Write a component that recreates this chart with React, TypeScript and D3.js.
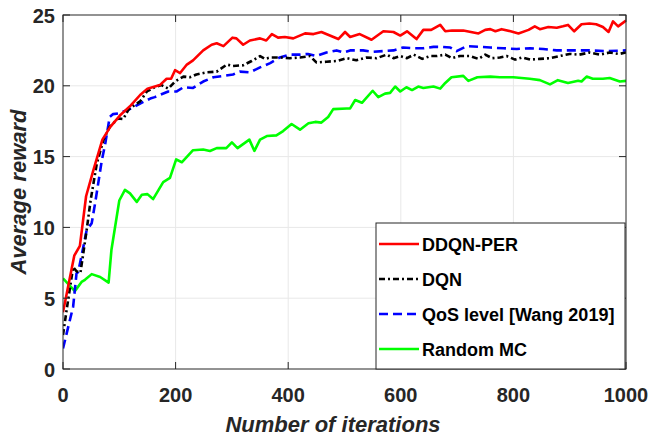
import React from "react";
import * as d3 from "d3";

const xTicks = [0, 200, 400, 600, 800, 1000];
const yTicks = [0, 5, 10, 15, 20, 25];

const ddqnX = [0, 10, 20, 30, 41, 54, 70, 84, 101, 120, 137, 150, 172, 184, 192, 199, 208, 220, 231, 249, 264, 273, 285, 301, 308, 320, 332, 350, 361, 371, 382, 394, 409, 430, 445, 459, 474, 489, 501, 510, 527, 548, 569, 587, 599, 611, 628, 640, 654, 670, 679, 691, 711, 738, 750, 759, 768, 779, 795, 809, 827, 838, 847, 862, 877, 888, 897, 908, 921, 935, 947, 959, 969, 977, 986, 1000];
const ddqnY = [4.0, 6.0, 8.0, 8.7, 12.2, 14.05, 16.2, 17.1, 17.9, 18.6, 19.35, 19.8, 20.05, 20.5, 20.5, 21.1, 20.9, 21.5, 21.8, 22.5, 22.9, 23.0, 22.8, 23.4, 23.35, 22.9, 23.2, 23.35, 23.2, 23.65, 23.4, 23.45, 23.35, 23.7, 23.65, 23.8, 23.55, 23.3, 23.8, 23.45, 23.65, 23.25, 23.85, 23.8, 23.55, 23.85, 23.3, 23.95, 23.95, 24.3, 23.85, 23.9, 23.9, 23.7, 23.95, 24.0, 23.85, 24.0, 23.85, 23.7, 23.95, 24.2, 24.0, 24.15, 24.1, 24.2, 24.3, 23.85, 24.35, 24.4, 24.35, 24.15, 23.8, 24.55, 24.2, 24.6];

const dqnX = [0, 6, 18, 24, 31, 42, 49, 60, 72, 83, 98, 107, 116, 122, 137, 149, 163, 175, 187, 199, 214, 225, 237, 255, 273, 291, 302, 320, 335, 350, 359, 368, 386, 403, 421, 439, 450, 468, 486, 504, 521, 539, 557, 575, 587, 599, 611, 623, 638, 652, 664, 679, 691, 705, 723, 738, 750, 762, 776, 788, 803, 815, 830, 847, 865, 882, 900, 917, 935, 953, 971, 988, 1000];
const dqnY = [2.4, 4.05, 7.2, 6.9, 6.8, 9.8, 11.9, 14.5, 16.2, 17.1, 17.7, 17.65, 18.3, 18.5, 18.9, 19.6, 19.9, 20.05, 19.8, 20.3, 20.65, 20.6, 20.8, 20.95, 21.0, 21.5, 21.4, 21.45, 21.75, 22.1, 21.9, 22.0, 22.0, 21.95, 22.0, 22.1, 21.65, 21.7, 21.75, 21.95, 21.8, 22.0, 21.95, 22.2, 21.95, 22.1, 21.95, 22.2, 21.9, 22.1, 22.1, 22.2, 21.95, 22.1, 22.1, 21.9, 22.2, 21.95, 22.0, 22.1, 21.85, 22.0, 21.85, 21.9, 21.95, 22.1, 22.25, 22.2, 22.35, 22.2, 22.35, 22.25, 22.35];

const qosX = [0, 18, 24, 27, 36, 42, 51, 57, 69, 75, 83, 89, 98, 116, 137, 155, 163, 172, 187, 202, 214, 231, 249, 267, 285, 302, 314, 332, 350, 368, 385, 403, 421, 435, 450, 468, 486, 498, 510, 533, 551, 569, 587, 604, 622, 640, 658, 670, 688, 699, 717, 741, 759, 782, 806, 830, 853, 877, 906, 935, 965, 1000];
const qosY = [1.45, 4.4, 6.75, 6.85, 8.6, 9.8, 10.3, 11.7, 14.75, 15.9, 17.8, 18.0, 18.05, 18.3, 18.75, 19.1, 19.2, 19.35, 19.6, 19.6, 19.9, 19.85, 20.3, 20.6, 20.7, 20.8, 21.0, 20.95, 21.3, 21.6, 22.0, 22.2, 22.2, 22.25, 22.1, 22.35, 22.5, 22.35, 22.5, 22.5, 22.4, 22.45, 22.5, 22.7, 22.65, 22.65, 22.75, 22.75, 22.7, 22.45, 22.8, 22.75, 22.7, 22.65, 22.6, 22.65, 22.6, 22.5, 22.5, 22.5, 22.45, 22.5];

const mcX = [0, 21, 33, 39, 51, 66, 81, 86, 100, 110, 119, 131, 140, 150, 160, 178, 190, 201, 211, 231, 249, 261, 273, 290, 300, 310, 331, 340, 350, 362, 379, 391, 406, 421, 436, 448, 459, 471, 480, 504, 510, 519, 531, 550, 560, 572, 581, 590, 599, 610, 620, 631, 640, 658, 670, 679, 690, 711, 720, 736, 759, 776, 800, 829, 847, 865, 879, 897, 915, 921, 930, 941, 959, 971, 989, 1000];
const mcY = [6.4, 5.5, 6.15, 6.3, 6.7, 6.5, 6.1, 8.4, 11.9, 12.65, 12.4, 11.8, 12.3, 12.35, 12.0, 13.2, 13.5, 14.8, 14.6, 15.45, 15.5, 15.4, 15.6, 15.6, 16.0, 15.6, 16.2, 15.4, 16.2, 16.45, 16.5, 16.8, 17.3, 16.9, 17.35, 17.45, 17.4, 17.8, 18.35, 18.4, 18.4, 19.0, 18.8, 19.65, 19.2, 19.45, 19.5, 19.95, 19.6, 19.9, 19.7, 19.95, 19.85, 19.95, 19.8, 20.2, 20.6, 20.7, 20.35, 20.6, 20.65, 20.6, 20.6, 20.5, 20.4, 20.1, 20.4, 20.2, 20.35, 20.3, 20.65, 20.5, 20.5, 20.55, 20.3, 20.35];

const seriesNames = ["DDQN-PER", "DQN", "QoS level [Wang 2019]", "Random MC"];
const seriesColors = ["#ff0000", "#000000", "#0000ff", "#00ff00"];
const seriesDash = [null, "6,3,2,3", "9,5", null];

const W = 649, H = 441;
const L = 63, R = 626, T = 15, B = 369;
const AX = "#262626";
const FONT = "'Liberation Sans', Arial, Helvetica, sans-serif";

export default function App() {
  const x = d3.scaleLinear().domain([0, 1000]).range([L, R]);
  const y = d3.scaleLinear().domain([0, 25]).range([B, T]);
  const line = d3.line<[number, number]>().x(d => x(d[0])).y(d => y(d[1]));
  const data = [
    d3.zip(ddqnX, ddqnY) as [number, number][],
    d3.zip(dqnX, dqnY) as [number, number][],
    d3.zip(qosX, qosY) as [number, number][],
    d3.zip(mcX, mcY) as [number, number][],
  ];
  const order = [3, 2, 1, 0];
  const legX = 376, legY = 223, legW = 249, legH = 146;
  const rowY = [244, 279, 314, 349];
  return (
    <svg width={W} height={H} style={{ position: "absolute", left: 0, top: 0, background: "#fff" }}>
      <defs>
        <clipPath id="plot"><rect x={L} y={T} width={R - L} height={B - T} /></clipPath>
      </defs>
      <rect x={0} y={0} width={W} height={H} fill="#fff" />
      {xTicks.slice(1, -1).map(t => (
        <line key={"gx" + t} x1={x(t)} x2={x(t)} y1={T} y2={B} stroke="#e8e8e8" strokeWidth={1} />
      ))}
      {yTicks.slice(1, -1).map(t => (
        <line key={"gy" + t} x1={L} x2={R} y1={y(t)} y2={y(t)} stroke="#e8e8e8" strokeWidth={1} />
      ))}
      <g clipPath="url(#plot)">
        {order.map(i => (
          <path key={"s" + i} d={line(data[i]) || ""} fill="none" stroke={seriesColors[i]}
            strokeWidth={2.6} strokeDasharray={seriesDash[i] || undefined} strokeLinejoin="round" />
        ))}
      </g>
      <rect x={L} y={T} width={R - L} height={B - T} fill="none" stroke={AX} strokeWidth={1} />
      {xTicks.map(t => (
        <g key={"tx" + t}>
          <line x1={x(t)} x2={x(t)} y1={B} y2={B - 7} stroke={AX} />
          <line x1={x(t)} x2={x(t)} y1={T} y2={T + 7} stroke={AX} />
          <text x={x(t)} y={402} textAnchor="middle" fontFamily={FONT} fontWeight="bold" fontSize={20} fill={AX}>{t}</text>
        </g>
      ))}
      {yTicks.map(t => (
        <g key={"ty" + t}>
          <line x1={L} x2={L + 7} y1={y(t)} y2={y(t)} stroke={AX} />
          <line x1={R} x2={R - 7} y1={y(t)} y2={y(t)} stroke={AX} />
          <text x={55} y={y(t) + 7.5} textAnchor="end" fontFamily={FONT} fontWeight="bold" fontSize={20} fill={AX}>{t}</text>
        </g>
      ))}
      <text x={333} y={432} textAnchor="middle" fontFamily={FONT} fontWeight="bold" fontStyle="italic" fontSize={22} fill={AX}>Number of iterations</text>
      <text transform={`translate(26,${(T + B) / 2}) rotate(-90)`} textAnchor="middle" fontFamily={FONT} fontWeight="bold" fontStyle="italic" fontSize={22} fill={AX}>Average reward</text>
      <rect x={legX} y={legY} width={legW} height={legH} fill="#fff" stroke={AX} strokeWidth={1} />
      {seriesNames.map((n, i) => (
        <g key={"lg" + i}>
          <line x1={379} x2={419} y1={rowY[i]} y2={rowY[i]} stroke={seriesColors[i]} strokeWidth={2.6}
            strokeDasharray={seriesDash[i] || undefined} />
          <text x={422} y={rowY[i] + 6.5} fontFamily={FONT} fontWeight="bold" fontSize={18} fill="#000">{n}</text>
        </g>
      ))}
    </svg>
  );
}
